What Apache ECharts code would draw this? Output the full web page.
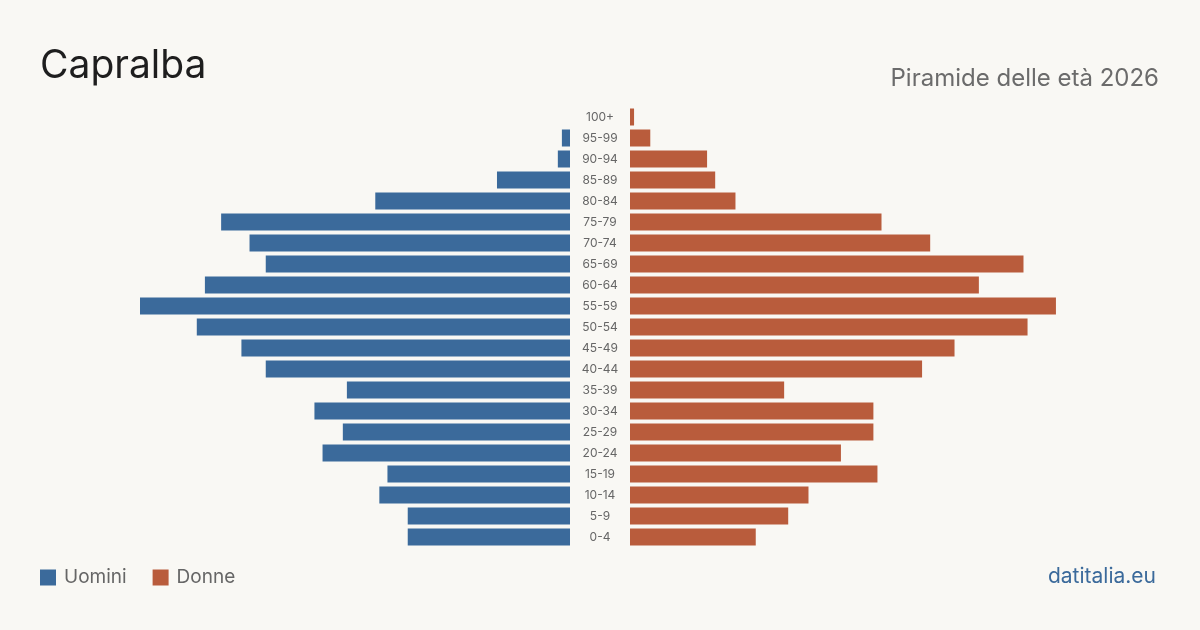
<!DOCTYPE html>
<html>
<head lang="it">
    <meta charset="UTF-8">
    <title>Capralba - Piramide delle età 2026</title>
    <style>
        html, body { margin:0; padding:0; background:#f9f8f4; }
        #pyramid { width:1200px; height:630px; }
    </style>
    <script src="https://cdn.jsdelivr.net/npm/echarts@6/dist/echarts.min.js"></script>
</head>
<body>
<div id="pyramid"></div>
<script>
    // fasce di età, dal basso verso l'alto
    var ageGroups = ['0-4','5-9','10-14','15-19','20-24','25-29','30-34','35-39','40-44','45-49',
                     '50-54','55-59','60-64','65-69','70-74','75-79','80-84','85-89','90-94','95-99','100+'];
    var uomini = [40,40,47,45,61,56,63,55,75,81,92,106,90,75,79,86,48,18,3,2,0];
    var donne  = [31,39,44,61,52,60,60,38,72,80,98,105,86,97,74,62,26,21,19,5,1];
    var scaleMax = 106;

    var blu = '#3b6a9b', rosso = '#b95c3c';
    var chart = echarts.init(document.getElementById('pyramid'));
    var option = {
        backgroundColor: '#f9f8f4',
        animation: false,
        textStyle: { fontFamily: 'Inter' },
        title: [
            { text: 'Capralba', left: 35, top: 42,
              textStyle: { fontSize: 39, fontWeight: 'normal', color: '#1e1e1e', fontFamily: 'Inter' } },
            { text: 'Piramide delle età 2026', right: 36, top: 62,
              textStyle: { fontSize: 24, fontWeight: 'normal', color: '#6b6b6b', fontFamily: 'Inter' } },
            { text: 'datitalia.eu', right: 39, top: 561,
              textStyle: { fontSize: 21, fontWeight: 'normal', color: '#3b6a9b', fontFamily: 'Inter' } }
        ],
        legend: {
            left: 35, top: 563,
            icon: 'rect', itemWidth: 16, itemHeight: 16, itemGap: 26,
            textStyle: { fontSize: 19, color: '#666', fontFamily: 'Inter', padding: [0, 0, 0, 3] },
            data: ['Uomini', 'Donne']
        },
        grid: [
            { left: 140, width: 430, top: 106.5, height: 441 },
            { left: 630, width: 430, top: 106.5, height: 441 }
        ],
        xAxis: [
            { gridIndex: 0, type: 'value', min: 0, max: scaleMax, inverse: true, show: false },
            { gridIndex: 1, type: 'value', min: 0, max: scaleMax, show: false }
        ],
        yAxis: [
            { gridIndex: 0, type: 'category', data: ageGroups, show: false },
            { gridIndex: 1, type: 'category', data: ageGroups,
              axisLine: { show: false }, axisTick: { show: false },
              axisLabel: { margin: 30, align: 'center', fontSize: 12, color: '#666', fontFamily: 'Inter' } }
        ],
        series: [
            { name: 'Uomini', type: 'bar', xAxisIndex: 0, yAxisIndex: 0, data: uomini,
              barCategoryGap: '19%', itemStyle: { color: blu } },
            { name: 'Donne', type: 'bar', xAxisIndex: 1, yAxisIndex: 1, data: donne,
              barCategoryGap: '19%', itemStyle: { color: rosso } }
        ]
    };
    chart.setOption(option);
</script>
</body>
</html>
